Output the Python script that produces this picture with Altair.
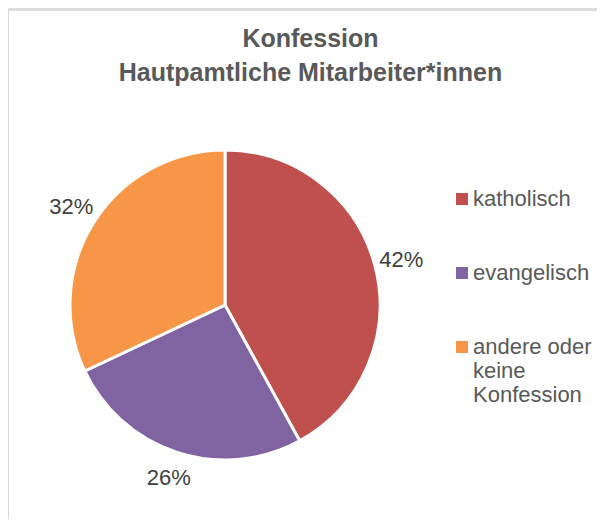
import altair as alt
import pandas as pd

categories = ["katholisch", "evangelisch", "andere oder keine Konfession"]
values = [42, 26, 32]
colors = ["#C0504D", "#8064A2", "#F79646"]
order = [1, 2, 3]

df = pd.DataFrame({"cat": categories, "value": values, "order": order})

FONT = "Liberation Sans"
W, H = 589, 511

color = alt.Color(
    "cat:N",
    scale=alt.Scale(domain=categories, range=colors),
    sort=categories,
    legend=alt.Legend(
        title=None,
        orient="none",
        legendX=443,
        legendY=180,
        symbolType="square",
        symbolSize=144,
        symbolStrokeWidth=0,
        labelFont=FONT,
        labelFontSize=22,
        labelColor="#595959",
        labelOffset=0,
        labelLimit=300,
        rowPadding=52,
        labelBaseline="middle",
        labelExpr="datum.label == 'andere oder keine Konfession' ? ['andere oder', 'keine', 'Konfession'] : datum.label",
    ),
)

base = alt.Chart(df).encode(
    theta=alt.Theta("value:Q", stack=True),
    order=alt.Order("order:Q"),
    color=color,
)

arcs = base.mark_arc(outerRadius=155, stroke="white", strokeWidth=3).encode(
    x=alt.value(217), y=alt.value(297)
)

labels = (
    base.transform_calculate(label="datum.value + '%'")
    .mark_text(radius=182, font=FONT, fontSize=22)
    .encode(
        text="label:N",
        x=alt.value(217),
        y=alt.value(297),
        color=alt.value("#404040"),
    )
)

left_border = alt.Chart(df).mark_rule(color="#D9D9D9", strokeWidth=1).encode(
    x=alt.value(0), y=alt.value(2), y2=alt.value(H)
)
top_border = alt.Chart(df).mark_rule(color="#D9D9D9", strokeWidth=1).encode(
    x=alt.value(0), x2=alt.value(W), y=alt.value(2)
)

chart = (
    alt.layer(left_border, top_border, arcs, labels)
    .properties(
        width=W,
        height=H,
        autosize=alt.AutoSizeParams(type="none"),
        padding=0,
        title=alt.TitleParams(
            text=["Konfession", "Hautpamtliche Mitarbeiter*innen"],
            anchor="middle",
            font=FONT,
            fontSize=25,
            fontWeight="bold",
            color="#595959",
            lineHeight=34,
            baseline="top",
            offset=-78,
            dx=8,
        ),
    )
    .configure_view(stroke=None)
    .configure(background="white")
)

chart.save("out.html", embed_options={"renderer": "svg", "actions": False})
